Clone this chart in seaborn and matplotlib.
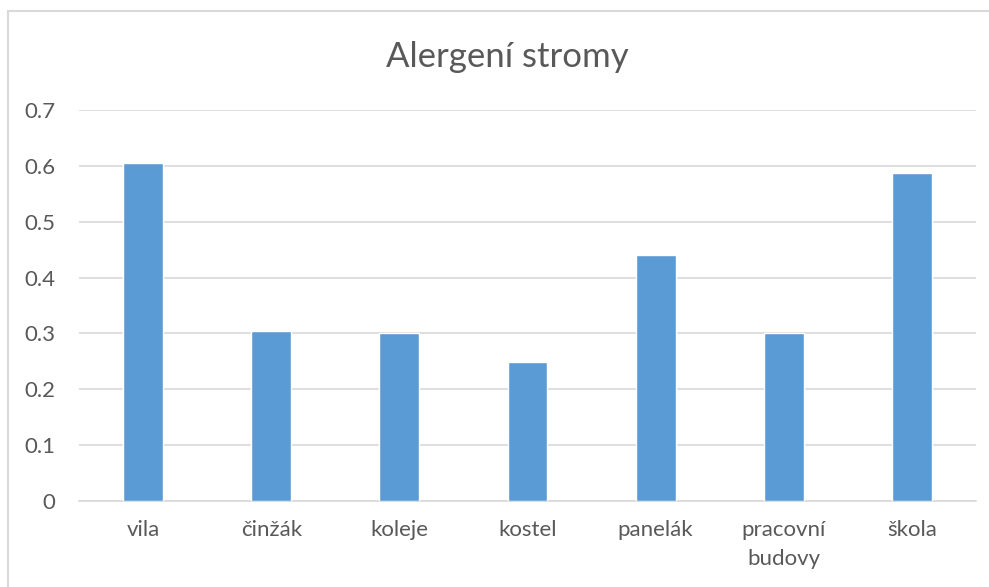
import matplotlib
matplotlib.use('Agg')
import matplotlib.pyplot as plt
from matplotlib.lines import Line2D
import pandas as pd
import seaborn as sns

# values
categories = ['vila', 'činžák', 'koleje', 'kostel', 'panelák', 'pracovní\nbudovy', 'škola']
values     = [0.606, 0.304, 0.300, 0.248, 0.440, 0.301, 0.587]
yticks     = [0, 0.1, 0.2, 0.3, 0.4, 0.5, 0.6, 0.7]
ytick_labels = ['0', '0.1', '0.2', '0.3', '0.4', '0.5', '0.6', '0.7']

df = pd.DataFrame({'kategorie': categories, 'hodnota': values})

sns.set_style(style='white')
plt.rcParams['font.family'] = ['Lato', 'DejaVu Sans']

text_col = '#595959'
grid_col = '#D9D9D9'

fig = plt.figure(figsize=(9.89, 5.87), dpi=100)
ax = fig.add_axes([79/989, 86/587, 897/989, 391/587])

sns.barplot(data=df, x='kategorie', y='hodnota', color='#5B9BD5', width=0.31,
            saturation=1, ax=ax, zorder=3)

ax.set_ylim(0, 0.7)
ax.set_xlim(-0.5, len(categories) - 0.5)
ax.set_yticks(yticks)
ax.set_yticklabels(ytick_labels)
ax.yaxis.grid(True, color=grid_col, linewidth=1.2, zorder=0)
ax.set_axisbelow(True)
for s in ['top', 'right', 'left']:
    ax.spines[s].set_visible(False)
ax.spines['bottom'].set_color(grid_col)
ax.spines['bottom'].set_linewidth(1.2)
ax.tick_params(axis='both', length=0, labelsize=16, labelcolor=text_col)
ax.tick_params(axis='y', pad=17)
ax.tick_params(axis='x', pad=14)
for lab in ax.get_xticklabels():
    lab.set_linespacing(1.55)
ax.set_xlabel('')
ax.set_ylabel('')

fig.text(507/989, 1 - 57/587, 'Alergení stromy', ha='center', va='center',
         fontsize=25, color=text_col)

# chart area border (only left and top edge are inside the image)
fig.add_artist(Line2D([8/989, 8/989], [0, 1 - 11/587], color=grid_col, lw=1.5,
                      transform=fig.transFigure))
fig.add_artist(Line2D([8/989, 1], [1 - 11/587, 1 - 11/587], color=grid_col, lw=1.5,
                      transform=fig.transFigure))

fig.savefig('out.png', dpi=100)
